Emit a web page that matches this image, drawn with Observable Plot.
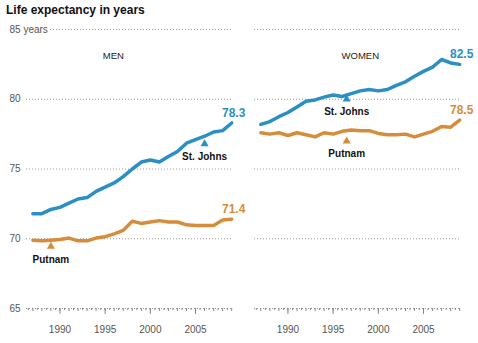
<!DOCTYPE html>
<html><head><meta charset="utf-8">
<script src="https://cdn.jsdelivr.net/npm/d3@7"></script>
<script src="https://cdn.jsdelivr.net/npm/@observablehq/plot@0.6"></script>
<style>
body{margin:0;background:#fff;font-family:"Liberation Sans",Arial,sans-serif;}
#title{height:20px;line-height:20px;padding-left:6px;font-weight:bold;font-size:12px;color:#111;}
</style></head><body>
<div id="title">Life expectancy in years</div>
<div id="chart"></div>
<script>
const years = [1987,1988,1989,1990,1991,1992,1993,1994,1995,1996,1997,1998,1999,2000,2001,2002,2003,2004,2005,2006,2007,2008,2009];
const panels = ["MEN", "WOMEN"];
const counties = ["St. Johns", "Putnam"];
const colors = ["#2b8fc3", "#d68d3b"];
const menStJohns   = [71.8,71.8,72.1,72.25,72.55,72.85,72.95,73.4,73.7,74.0,74.45,75.0,75.5,75.65,75.5,75.9,76.25,76.85,77.1,77.35,77.65,77.75,78.3];
const menPutnam    = [69.9,69.85,69.9,69.95,70.05,69.85,69.85,70.05,70.15,70.35,70.6,71.25,71.1,71.2,71.3,71.2,71.2,71.0,70.95,70.95,70.95,71.35,71.4];
const womenStJohns = [78.2,78.4,78.75,79.05,79.45,79.85,79.95,80.15,80.3,80.2,80.4,80.6,80.7,80.6,80.7,81.0,81.25,81.65,82.0,82.3,82.85,82.6,82.5];
const womenPutnam  = [77.6,77.5,77.6,77.4,77.6,77.45,77.3,77.6,77.5,77.7,77.8,77.75,77.75,77.55,77.45,77.45,77.5,77.3,77.5,77.7,78.05,78.0,78.5];
const yTicks = [65, 70, 75, 80, 85];
const yTickLabels = ["65", "70", "75", "80", "85 years"];
const xTickLabels = [1990, 1995, 2000, 2005];
// annotation pointers (panel, county, year, value where the arrow sits)
const annPanel  = ["MEN", "MEN", "WOMEN", "WOMEN"];
const annCounty = ["St. Johns", "Putnam", "St. Johns", "Putnam"];
const annYear   = [2006, 1989, 1996.5, 1996.5];
const annValue  = [76.8, 69.45, 80.0, 77.0];
const panelLabelYear = [1995.9, 1998];

const series = [
  ["MEN", "St. Johns", menStJohns], ["MEN", "Putnam", menPutnam],
  ["WOMEN", "St. Johns", womenStJohns], ["WOMEN", "Putnam", womenPutnam]
];
const rows = series.flatMap(([panel, county, vals]) => vals.map((v, i) => ({panel, county, year: years[i], value: v})));
const grid = panels.flatMap(panel => yTicks.map(v => ({panel, value: v})));
const yLabelRows = yTicks.map((v, i) => ({panel: "MEN", value: v, label: yTickLabels[i]}));
const ann = annPanel.map((p, i) => ({panel: p, county: annCounty[i], year: annYear[i], value: annValue[i]}));
const panelLabels = panels.map((p, i) => ({panel: p, year: panelLabelYear[i]}));
const colorOf = c => colors[counties.indexOf(c)];

const font = '"Liberation Sans", Arial, sans-serif';
const plot = Plot.plot({
  width: 478, height: 323,
  marginLeft: 25, marginRight: 16, marginTop: 9, marginBottom: 35,
  style: {fontFamily: font, fontSize: "10px", color: "#555", background: "#fff"},
  fx: {domain: panels, paddingInner: 0.0917, paddingOuter: 0, axis: null, label: null},
  x: {domain: [1986.3, 2009.2], axis: null, label: null},
  y: {domain: [65, 85], axis: null, label: null},
  marks: [
    Plot.ruleY(grid, {fx: "panel", y: "value", stroke: "#999", strokeDasharray: "1,2", strokeWidth: 1}),
    Plot.text(yLabelRows, {fx: "panel", y: "value", text: "label", frameAnchor: "left", textAnchor: "start", dx: -17,
      fill: "#555", stroke: "white", strokeWidth: 5, paintOrder: "stroke", fontSize: 10}),
    Plot.axisX({ticks: d3.range(1986.5, 2009.5, 1), tickSize: 2, tickFormat: () => "", stroke: "#888", label: null}),
    Plot.axisX({ticks: years, tickSize: 3, tickFormat: () => "", stroke: "#888", label: null}),
    Plot.axisX({ticks: xTickLabels, tickSize: 6, tickPadding: 11, tickFormat: d => String(d), stroke: "#888", fill: "#555", fontSize: 10, label: null}),
    Plot.text(panelLabels, {fx: "panel", x: "year", text: "panel", frameAnchor: "top", dy: 23, fontSize: 9.5, fill: "#222"}),
    Plot.line(rows, {fx: "panel", x: "year", y: "value", z: "county", stroke: d => colorOf(d.county), strokeWidth: 3.5, strokeLinejoin: "round"}),
    Plot.text(rows, Plot.selectLast({fx: "panel", x: "year", y: "value", z: "county", text: d => d.value.toFixed(1),
      fill: d => colorOf(d.county), dy: -10, dx: 2, fontWeight: "bold", fontSize: 12})),
    Plot.dot(ann, {fx: "panel", x: "year", y: "value", symbol: "triangle", r: 3, fill: d => colorOf(d.county), stroke: null}),
    Plot.text(ann, {fx: "panel", x: "year", y: "value", text: "county", dy: 13, fontWeight: "bold", fontSize: 10, fill: "#111"})
  ]
});
document.getElementById("chart").appendChild(plot);
</script>
</body></html>
